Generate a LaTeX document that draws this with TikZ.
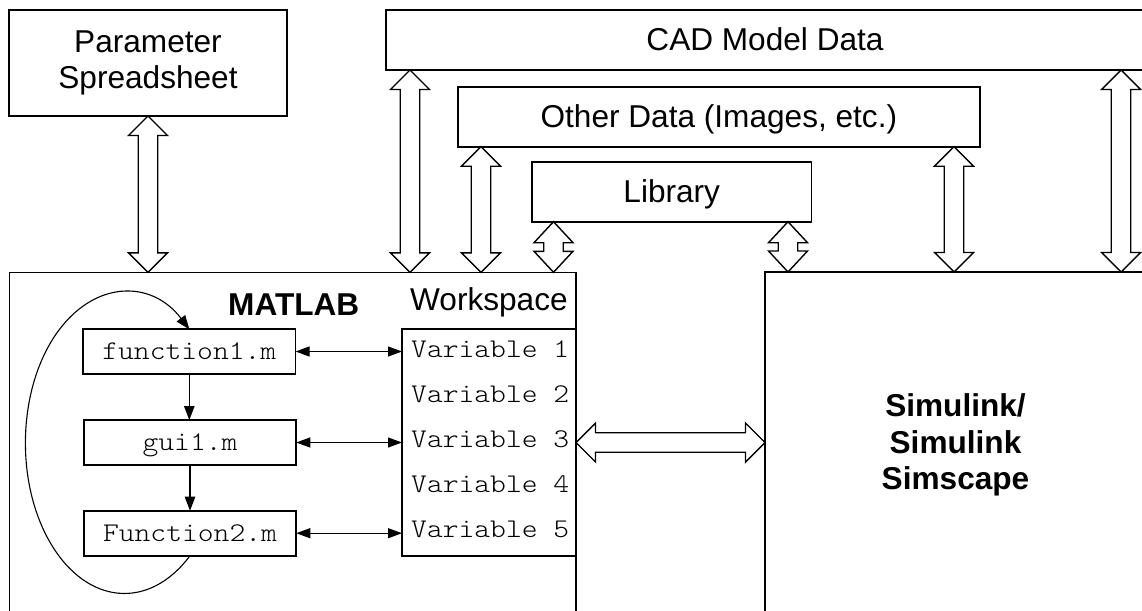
\documentclass[tikz,border=0pt]{standalone}
\usepackage{fontspec}
\setmainfont{Liberation Sans}
\setmonofont[FakeStretch=1.115]{Latin Modern Mono Light}
\usetikzlibrary{arrows.meta,calc}

\tikzset{
  box/.style={draw, line width=1.6pt, inner sep=0pt, outer sep=0pt},
  sans/.style={font=\fontsize{31.6}{36.7}\selectfont},
  sansone/.style={sans, text height=21.7pt, text depth=0pt},
  sansbold/.style={font=\fontsize{31.6}{36.7}\selectfont\bfseries},
  mono/.style={font=\fontsize{27}{30}\selectfont\ttfamily},
  monobox/.style={box, mono, minimum width=212.5pt, minimum height=45pt, text height=16.5pt, text depth=0pt},
  thinline/.style={line width=1.1pt},
  tipend/.style={-{Triangle[length=14pt,width=10.5pt]}},
  tipboth/.style={{Triangle[length=14pt,width=10pt]}-{Triangle[length=14pt,width=10pt]}},
  hollow/.style={draw, line width=1.4pt, line join=miter},
}

\newcommand{\hollowV}[3]{%
  \draw[hollow] let \p1=#1, \p2=#2 in
    (\x1,\y1) -- (\x1+19.5pt,\y1-#3) -- (\x1+9.75pt,\y1-#3) -- (\x1+9.75pt,\y2+#3)
    -- (\x1+19.5pt,\y2+#3) -- (\x1,\y2) -- (\x1-19.5pt,\y2+#3) -- (\x1-9.75pt,\y2+#3)
    -- (\x1-9.75pt,\y1-#3) -- (\x1-19.5pt,\y1-#3) -- cycle;}
\newcommand{\hollowH}[3]{%
  \draw[hollow] let \p1=#1, \p2=#2 in
    (\x1,\y1) -- (\x1+#3,\y1+19.5pt) -- (\x1+#3,\y1+9.75pt) -- (\x2-#3,\y1+9.75pt)
    -- (\x2-#3,\y1+19.5pt) -- (\x2,\y1) -- (\x2-#3,\y1-19.5pt) -- (\x2-#3,\y1-9.75pt)
    -- (\x1+#3,\y1-9.75pt) -- (\x1+#3,\y1-19.5pt) -- cycle;}

\begin{document}
\begin{tikzpicture}[x=1pt,y=-1pt]
\useasboundingbox (0,0) rectangle (1142,610);

% top boxes
\node[box, sans, align=center, minimum width=278pt, minimum height=106pt] (param) at (148,63) {Parameter\\Spreadsheet};
\node[box, sansone, minimum width=758pt, minimum height=60pt] (cad) at (765,40) {CAD Model Data};
\node[box, sansone, minimum width=522.3pt, minimum height=60pt] (other) at (718.85,116.7) {Other Data (Images, etc.)};
\node[box, sansone, minimum width=279.5pt, minimum height=60pt] (lib) at (671.75,191.7) {Library};

% big boxes
\node[box, minimum width=566.4pt, minimum height=360pt] (matlab) at (292.8,452.3) {};
\node[box, sansbold, align=center, minimum width=381pt, minimum height=346pt] (sim) at (955.5,445) {Simulink/\\Simulink\\Simscape};

% labels in MATLAB
\node[sansbold, anchor=base west, inner sep=0pt] (mlabel) at (228,315.5) {MATLAB};
\node[sans, anchor=base west, inner sep=0pt] (wslabel) at (410,310.5) {Workspace};

% workspace
\node[box, minimum width=174pt, minimum height=226.7pt] (ws) at (489,442.35) {};
\node[mono, anchor=base west, inner sep=0pt] (v1) at (411,357.3) {Variable 1};
\node[mono, anchor=base west, inner sep=0pt] (v2) at (411,402.3) {Variable 2};
\node[mono, anchor=base west, inner sep=0pt] (v3) at (411,447.3) {Variable 3};
\node[mono, anchor=base west, inner sep=0pt] (v4) at (411,492.3) {Variable 4};
\node[mono, anchor=base west, inner sep=0pt] (v5) at (411,537.3) {Variable 5};

% function boxes
\node[monobox] (f1) at (189.3,351.5) {function1.m};
\node[monobox] (gui) at (190,442.5) {gui1.m};
\node[monobox] (f2) at (190,533.2) {Function2.m};

% thin arrows
\draw[thinline, tipend] (f1.south) -- (f1.south |- gui.north);
\draw[thinline, tipend] (gui.south) -- (gui.south |- f2.north);
\draw[thinline, tipboth] (f1.east) -- (f1.east -| ws.west);
\draw[thinline, tipboth] (gui.east) -- (gui.east -| ws.west);
\draw[thinline, tipboth] (f2.east) -- (f2.east -| ws.west);
\draw[thinline, tipend] (f2.south) arc[start angle=48.5, end angle=311, x radius=99, y radius=150.5];

% hollow arrows
\coordinate (xa) at (410,0);
\coordinate (xb) at (481,0);
\coordinate (xc) at (553.5,0);
\coordinate (xd) at (788,0);
\coordinate (xe) at (954,0);
\coordinate (xf) at (1121,0);
\hollowV{(param.south)}{(param.south |- matlab.north)}{19.5pt}
\hollowV{(xa |- cad.south)}{(xa |- matlab.north)}{19.5pt}
\hollowV{(xb |- other.south)}{(xb |- matlab.north)}{19.5pt}
\hollowV{(xc |- lib.south)}{(xc |- matlab.north)}{21pt}
\hollowV{(xd |- lib.south)}{(xd |- sim.north)}{21pt}
\hollowV{(xe |- other.south)}{(xe |- sim.north)}{19.5pt}
\hollowV{(xf |- cad.south)}{(xf |- sim.north)}{19.5pt}
\hollowH{(gui.east -| matlab.east)}{(gui.east -| sim.west)}{19.5pt}
\end{tikzpicture}
\end{document}
